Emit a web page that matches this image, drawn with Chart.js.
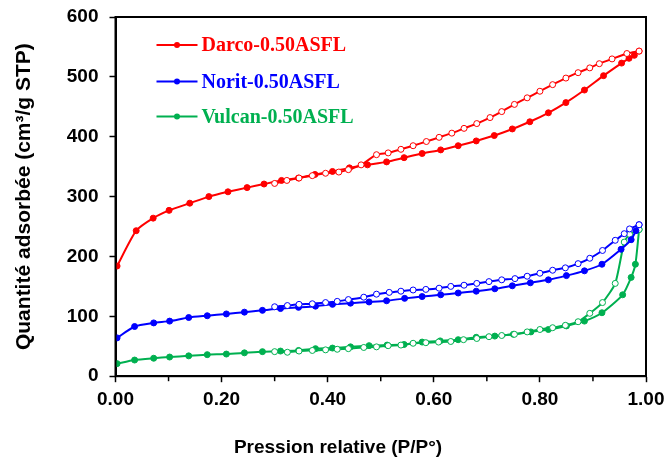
<!DOCTYPE html>
<html>
<head>
<meta charset="utf-8">
<script src="https://cdn.jsdelivr.net/npm/chart.js@4"></script>
<style>
  html, body { margin: 0; padding: 0; background: #fff; }
  #wrap { width: 667px; height: 461px; position: relative; }
</style>
</head>
<body>
<div id="wrap"><canvas id="c"></canvas></div>
<script>
// ---- Data ----
const seriesNames = ['Darco-0.50ASFL', 'Norit-0.50ASFL', 'Vulcan-0.50ASFL'];
const seriesColors = ['#FF0000', '#0000FF', '#00B050'];

const darcoAdsX = [0.003,0.039,0.071,0.101,0.140,0.176,0.212,0.248,0.280,0.313,0.345,0.376,0.409,0.441,0.475,0.511,0.544,0.578,0.613,0.646,0.680,0.714,0.748,0.781,0.816,0.849,0.884,0.920,0.954,0.968,0.978,0.987];
const darcoAdsY = [184,243,264,277,289,300,308,315,321,327,331,337,342,348,353,358,365,372,378,385,393,402,413,425,440,457,478,502,523,531,536,543];
const darcoDesX = [0.987,0.964,0.936,0.912,0.894,0.872,0.849,0.824,0.800,0.776,0.752,0.728,0.706,0.681,0.657,0.634,0.610,0.586,0.561,0.538,0.514,0.492,0.463,0.439,0.421,0.396,0.371,0.346,0.323,0.300];
const darcoDesY = [543,539,530,522,515,507,498,487,476,465,454,442,432,422,414,406,399,392,385,379,373,370,353,345,341,339,335,331,327,322];

const noritAdsX = [0.003,0.036,0.072,0.102,0.138,0.173,0.209,0.243,0.277,0.311,0.345,0.377,0.409,0.443,0.478,0.511,0.545,0.578,0.613,0.646,0.680,0.715,0.748,0.782,0.816,0.850,0.884,0.917,0.953,0.972,0.981,0.987];
const noritAdsY = [64,83,89,92,98,101,104,107,110,113,115,117,120,122,124,126,130,133,136,139,142,146,151,156,161,168,176,187,212,228,243,253];
const noritDesX = [0.987,0.969,0.959,0.942,0.918,0.894,0.872,0.848,0.824,0.800,0.776,0.753,0.728,0.704,0.681,0.657,0.632,0.610,0.585,0.561,0.538,0.516,0.492,0.468,0.439,0.418,0.396,0.371,0.346,0.324,0.300];
const noritDesY = [253,246,238,227,210,197,188,181,177,172,167,163,161,158,155,152,150,147,145,144,142,140,137,132,128,125,123,121,120,118,116];

const vulcanAdsX = [0.003,0.036,0.072,0.102,0.138,0.173,0.209,0.243,0.277,0.311,0.345,0.377,0.409,0.443,0.478,0.512,0.544,0.578,0.612,0.646,0.680,0.715,0.750,0.783,0.816,0.850,0.884,0.917,0.956,0.972,0.980,0.987];
const vulcanAdsY = [21,27,30,32,34,36,37,39,41,42,43,46,47,49,51,52,53,57,59,61,65,67,70,74,78,84,92,106,136,165,187,245];
const vulcanDesX = [0.987,0.969,0.959,0.942,0.918,0.894,0.872,0.848,0.824,0.800,0.776,0.752,0.728,0.704,0.681,0.656,0.632,0.609,0.585,0.561,0.538,0.514,0.492,0.468,0.439,0.418,0.396,0.371,0.346,0.324,0.300];
const vulcanDesY = [245,237,224,155,123,105,91,85,81,78,74,70,68,66,63,61,58,57,56,55,52,51,49,48,46,45,44,43,42,40,41];

const xTickValues = [0, 0.2, 0.4, 0.6, 0.8, 1.0];
const xMinorTickValues = [0.1, 0.3, 0.5, 0.7, 0.9];
const yTickValues = [0, 100, 200, 300, 400, 500, 600];
const xTitle = 'Pression relative (P/P°)';
const yTitle = 'Quantité adsorbée (cm³/g STP)';

// ---- Build datasets ----
function pts(xs, ys) { return xs.map((x, i) => ({ x: x, y: ys[i] })); }
const ads = [[darcoAdsX, darcoAdsY], [noritAdsX, noritAdsY], [vulcanAdsX, vulcanAdsY]];
const des = [[darcoDesX, darcoDesY], [noritDesX, noritDesY], [vulcanDesX, vulcanDesY]];

const datasets = [];
for (let i = 0; i < 3; i++) {
  datasets.push({
    label: seriesNames[i] + ' (désorption)',
    data: pts(des[i][0], des[i][1]),
    borderColor: seriesColors[i],
    backgroundColor: '#FFFFFF',
    pointBackgroundColor: '#FFFFFF',
    pointBorderColor: seriesColors[i],
    pointBorderWidth: 1,
    pointRadius: 3,
    borderWidth: 2,
    tension: 0.2
  });
  datasets.push({
    label: seriesNames[i],
    data: pts(ads[i][0], ads[i][1]),
    borderColor: seriesColors[i],
    backgroundColor: seriesColors[i],
    pointBackgroundColor: seriesColors[i],
    pointBorderColor: seriesColors[i],
    pointBorderWidth: 1,
    pointRadius: 3,
    borderWidth: 2,
    tension: 0.2
  });
}

const tickFont = { family: "'Liberation Sans', Arial, sans-serif", size: 19, weight: 'bold' };

// Box around the plot area + minor x ticks
const framePlugin = {
  id: 'frame',
  afterLayout(chart) {
    // shift the bottom title's centring box to match the reference position
    if (chart.titleBlock) { chart.titleBlock.left += 30; }
  },
  afterDraw(chart) {
    const { ctx, chartArea: a, scales } = chart;
    ctx.save();
    ctx.strokeStyle = '#000';
    ctx.lineWidth = 2;
    ctx.strokeRect(a.left, a.top, a.right - a.left, a.bottom - a.top);
    ctx.lineWidth = 1.5;
    xMinorTickValues.forEach(v => {
      const x = scales.x.getPixelForValue(v);
      ctx.beginPath();
      ctx.moveTo(x, a.bottom);
      ctx.lineTo(x, a.bottom + 5);
      ctx.stroke();
    });
    ctx.restore();
  }
};

// Legend inside plot (line + dot + serif bold text)
const legendPlugin = {
  id: 'innerLegend',
  afterDraw(chart) {
    const { ctx, chartArea: a } = chart;
    ctx.save();
    ctx.font = "bold 20px 'Liberation Serif', 'Times New Roman', serif";
    ctx.textBaseline = 'middle';
    ctx.textAlign = 'left';
    const rows = [28, 64.5, 99.5];
    for (let i = 0; i < 3; i++) {
      const y = a.top + rows[i];
      const x0 = a.left + 41;
      ctx.strokeStyle = seriesColors[i];
      ctx.fillStyle = seriesColors[i];
      ctx.lineWidth = 2;
      ctx.beginPath();
      ctx.moveTo(x0, y);
      ctx.lineTo(x0 + 41, y);
      ctx.stroke();
      ctx.beginPath();
      ctx.arc(x0 + 20.5, y, 3, 0, Math.PI * 2);
      ctx.fill();
      ctx.fillText(seriesNames[i], x0 + 45, y + 1);
    }
    ctx.restore();
  }
};

new Chart(document.getElementById('c'), {
  type: 'line',
  data: { datasets: datasets },
  options: {
    responsive: true,
    maintainAspectRatio: false,
    animation: false,
    layout: { padding: { top: 17, right: 21, bottom: 2, left: 0 } },
    plugins: {
      legend: { display: false },
      tooltip: { enabled: false },
      title: {
        display: true,
        position: 'bottom',
        text: xTitle,
        color: '#000',
        font: { family: "'Liberation Sans', Arial, sans-serif", size: 19, weight: 'bold' },
        padding: { top: 8, bottom: 0 }
      }
    },
    scales: {
      x: {
        type: 'linear',
        min: 0,
        max: 1,
        afterBuildTicks(scale) { scale.ticks = xTickValues.map(v => ({ value: v })); },
        afterFit(scale) { scale.height = 52; scale.paddingLeft = 0; scale.paddingRight = 0; },
        ticks: {
          color: '#000',
          font: tickFont,
          padding: 6,
          maxRotation: 0,
          callback: v => Number(v).toFixed(2)
        },
        grid: { drawOnChartArea: false, drawTicks: true, tickLength: 6, tickColor: '#000', tickWidth: 1.5 },
        border: { display: true, color: '#000', width: 2 }
      },
      y: {
        type: 'linear',
        min: 0,
        max: 600,
        afterBuildTicks(scale) { scale.ticks = yTickValues.map(v => ({ value: v })); },
        afterFit(scale) { scale.width = 115.5; scale.paddingTop = 0; scale.paddingBottom = 0; },
        ticks: {
          color: '#000',
          font: tickFont,
          padding: 11
        },
        grid: { drawOnChartArea: false, drawTicks: true, tickLength: 6, tickColor: '#000', tickWidth: 1.5 },
        border: { display: true, color: '#000', width: 2 },
        title: {
          display: true,
          text: yTitle,
          color: '#000',
          font: { family: "'Liberation Sans', Arial, sans-serif", size: 21, weight: 'bold' },
          padding: { top: 12, bottom: 0 }
        }
      }
    }
  },
  plugins: [framePlugin, legendPlugin]
});
</script>
</body>
</html>
